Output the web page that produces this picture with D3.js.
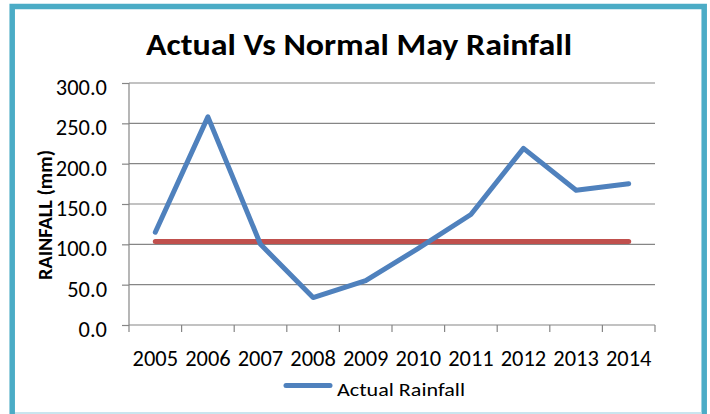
<!DOCTYPE html>
<html>
<head>
<meta charset="utf-8">
<script src="https://cdn.jsdelivr.net/npm/d3@7"></script>
<style>
  html, body { margin: 0; padding: 0; background: #ffffff; }
  svg { display: block; }
  text { font-family: Carlito, Lato, "Open Sans", sans-serif; }
</style>
</head>
<body>
<svg id="chart" width="710" height="414"></svg>
<script>
const years = ["2005","2006","2007","2008","2009","2010","2011","2012","2013","2014"];
const actualRainfall = [115, 258, 100, 34, 55, 95, 137, 219, 167, 175];
const normalRainfall = [103.5, 103.5, 103.5, 103.5, 103.5, 103.5, 103.5, 103.5, 103.5, 103.5];
const yTicks = [0, 50, 100, 150, 200, 250, 300];
const titleText = "Actual Vs Normal May Rainfall";
const yAxisTitle = "RAINFALL (mm)";
const legendLabel = "Actual Rainfall";

const svg = d3.select("#chart");
const W = 710, H = 414;
const plot = { left: 129, right: 655, top: 83, bottom: 325 };
const FONT = "Carlito, Lato, 'Open Sans', sans-serif";

const blue = "#4F81BD", red = "#C0504D", grid = "#868686", border = "#4BACC6";

// border frame
svg.append("rect").attr("x", 0).attr("y", 0).attr("width", W).attr("height", H).attr("fill", "#fff");
svg.append("rect")
  .attr("x", 12.2).attr("y", 6.5).attr("width", 704.2 - 12.2).attr("height", 430)
  .attr("fill", "none").attr("stroke", border).attr("stroke-width", 5.5);
svg.append("line").attr("x1", 15).attr("x2", 702).attr("y1", 413).attr("y2", 413)
  .attr("stroke", "#b7dde8").attr("stroke-width", 1.5);

const x = d3.scaleBand().domain(years).range([plot.left, plot.right]).padding(0);
const y = d3.scaleLinear().domain([0, 300]).range([plot.bottom, plot.top]);

// gridlines
svg.append("g").selectAll("line").data(yTicks.filter(d => d > 0)).join("line")
  .attr("x1", plot.left).attr("x2", plot.right)
  .attr("y1", d => y(d)).attr("y2", d => y(d))
  .attr("stroke", grid).attr("stroke-width", 1.2);

// determine tick font size so "2005" is ~45.5px wide
const probe = svg.append("text").attr("font-size", 20).attr("font-family", FONT).text("2005");
const pw = probe.node().getComputedTextLength();
probe.remove();
const tickFS = pw > 0 ? Math.min(24, Math.max(17, 20 * 45.5 / pw)) : 22;

// y axis
const yAxis = svg.append("g").attr("transform", `translate(${plot.left},0)`)
  .call(d3.axisLeft(y).tickValues(yTicks).tickSize(7).tickPadding(15).tickFormat(d3.format(".1f")));
yAxis.select(".domain").attr("stroke", grid).attr("stroke-width", 1.2)
  .attr("d", `M0,${plot.top}V${plot.bottom}`);
yAxis.selectAll(".tick line").attr("stroke", grid).attr("stroke-width", 1.2);
yAxis.selectAll(".tick text").attr("dy", null).attr("y", 11.5).attr("x", -22)
  .attr("font-size", tickFS).attr("fill", "#000").attr("font-family", FONT);

// x axis
const xAxis = svg.append("g").attr("transform", `translate(0,${plot.bottom})`)
  .call(d3.axisBottom(x).tickSize(0).tickPadding(0));
xAxis.select(".domain").attr("stroke", grid).attr("stroke-width", 1.2)
  .attr("d", `M${plot.left},0H${plot.right}`);
xAxis.selectAll(".tick text").attr("dy", null).attr("y", 40.5)
  .attr("font-size", tickFS).attr("fill", "#000").attr("font-family", FONT);
// category boundary ticks
const bounds = years.map(d => x(d)).concat([x(years[years.length - 1]) + x.bandwidth()]);
xAxis.append("g").selectAll("line").data(bounds).join("line")
  .attr("x1", d => d).attr("x2", d => d).attr("y1", 0).attr("y2", 7)
  .attr("stroke", grid).attr("stroke-width", 1.2);

const cx = d => x(d) + x.bandwidth() / 2;

// normal line
svg.append("path")
  .datum(years.map((d, i) => [cx(d), y(normalRainfall[i])]))
  .attr("d", d3.line())
  .attr("fill", "none").attr("stroke", red).attr("stroke-width", 5).attr("stroke-linecap", "round");

// actual line
svg.append("path")
  .datum(years.map((d, i) => [cx(d), y(actualRainfall[i])]))
  .attr("d", d3.line())
  .attr("fill", "none").attr("stroke", blue).attr("stroke-width", 5)
  .attr("stroke-linecap", "round").attr("stroke-linejoin", "round");

// title
svg.append("text").attr("x", 359).attr("y", 55).attr("text-anchor", "middle")
  .attr("font-size", 31).attr("font-weight", "bold").attr("fill", "#000")
  .attr("textLength", 426).attr("lengthAdjust", "spacingAndGlyphs")
  .text(titleText);

// y axis title
svg.append("text").attr("transform", "translate(52,215) rotate(-90)")
  .attr("text-anchor", "middle").attr("font-size", 20).attr("font-weight", "bold").attr("fill", "#000")
  .attr("textLength", 130).attr("lengthAdjust", "spacingAndGlyphs")
  .text(yAxisTitle);

// legend
svg.append("line").attr("x1", 286).attr("x2", 330).attr("y1", 385.5).attr("y2", 385.5)
  .attr("stroke", blue).attr("stroke-width", 5).attr("stroke-linecap", "round");
svg.append("text").attr("x", 337).attr("y", 396).attr("font-size", 18).attr("fill", "#000")
  .attr("textLength", 128).attr("lengthAdjust", "spacingAndGlyphs")
  .text(legendLabel);
</script>
</body>
</html>
